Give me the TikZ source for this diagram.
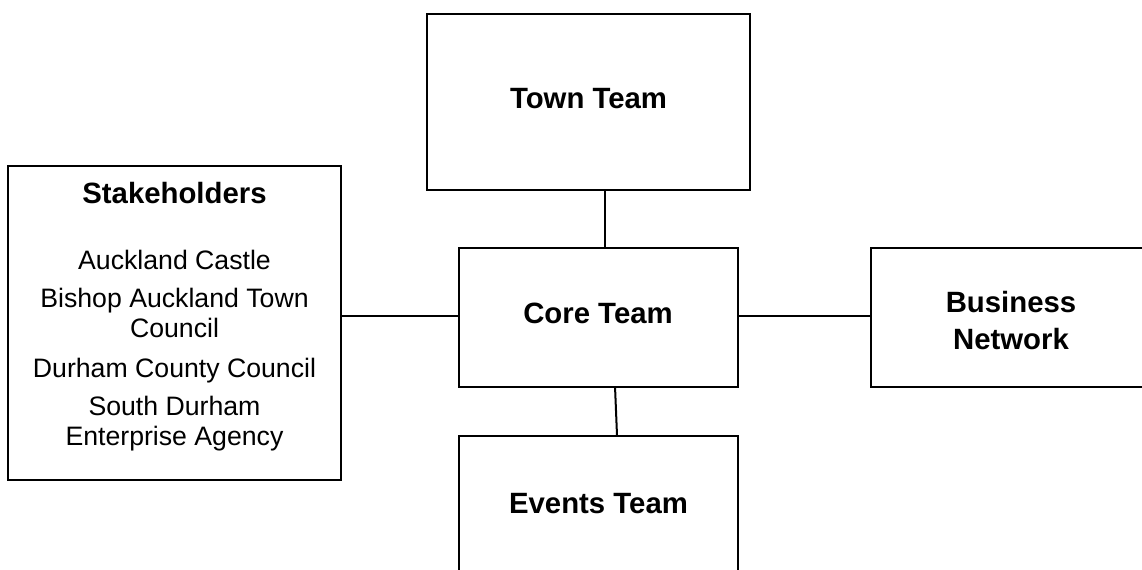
\documentclass[tikz,border=0pt]{standalone}
\usepackage{fontspec}
\setmainfont{Liberation Sans}

\tikzset{
	teambox/.style={draw, line width=1.5pt, inner sep=0pt, outer sep=0pt},
	title/.style={anchor=base, font=\fontsize{22}{27.75}\selectfont\bfseries, align=center, inner sep=0pt},
	member/.style={anchor=base, font=\fontsize{20}{22.5}\selectfont, align=center, inner sep=0pt},
	link/.style={line width=1.5pt}
}

\begin{document}
\begin{tikzpicture}[x=0.75pt, y=-0.75pt]
	
	\useasboundingbox (0,0) rectangle (1142,569);
	\clip (0,0) rectangle (1142,569);
	
	\node[teambox, minimum width=242.25pt, minimum height=132pt] (town) at (588.5,102) {};
	\node[teambox, minimum width=209.25pt, minimum height=104.25pt] (core) at (598.5,317.5) {};
	\node[teambox, minimum width=209.25pt, minimum height=123pt] (events) at (598.5,518) {};
	\node[teambox, minimum width=216.75pt, minimum height=104.25pt] (biz) at (1015.5,317.5) {};
	\node[teambox, minimum width=249.75pt, minimum height=235.5pt] (stake) at (174.5,323) {};
	
	% base of a two-line node is its last line
	\node[title] (townlbl) at (588.5,108) {Town Team};
	\node[title] (corelbl) at (598,323) {Core Team};
	\node[title] (eventslbl) at (598.5,513) {Events Team};
	\node[title] (bizlbl) at (1011,349) {Business\\Network};
	\node[title] (stakelbl) at (174.5,203) {Stakeholders};
	
	\node[member] (castle) at (174.5,269) {Auckland Castle};
	\node[member] (towncouncil) at (174.5,337) {Bishop Auckland Town\\Council};
	\node[member] (county) at (174.5,377) {Durham County Council};
	\node[member] (agency) at (174.5,445) {South Durham\\Enterprise Agency};
	
	\draw[link] ([xshift=12.4pt]town.south) -- ([xshift=4.9pt]core.north);
	\draw[link] ([xshift=12.4pt]core.south) -- ([xshift=13.9pt]events.north);
	\draw[link] ([yshift=1.1pt]core.west) -- ([yshift=1.1pt]core.west -| stake.east);
	\draw[link] ([yshift=1.1pt]core.east) -- ([yshift=1.1pt]core.east -| biz.west);
	
\end{tikzpicture}
\end{document}
